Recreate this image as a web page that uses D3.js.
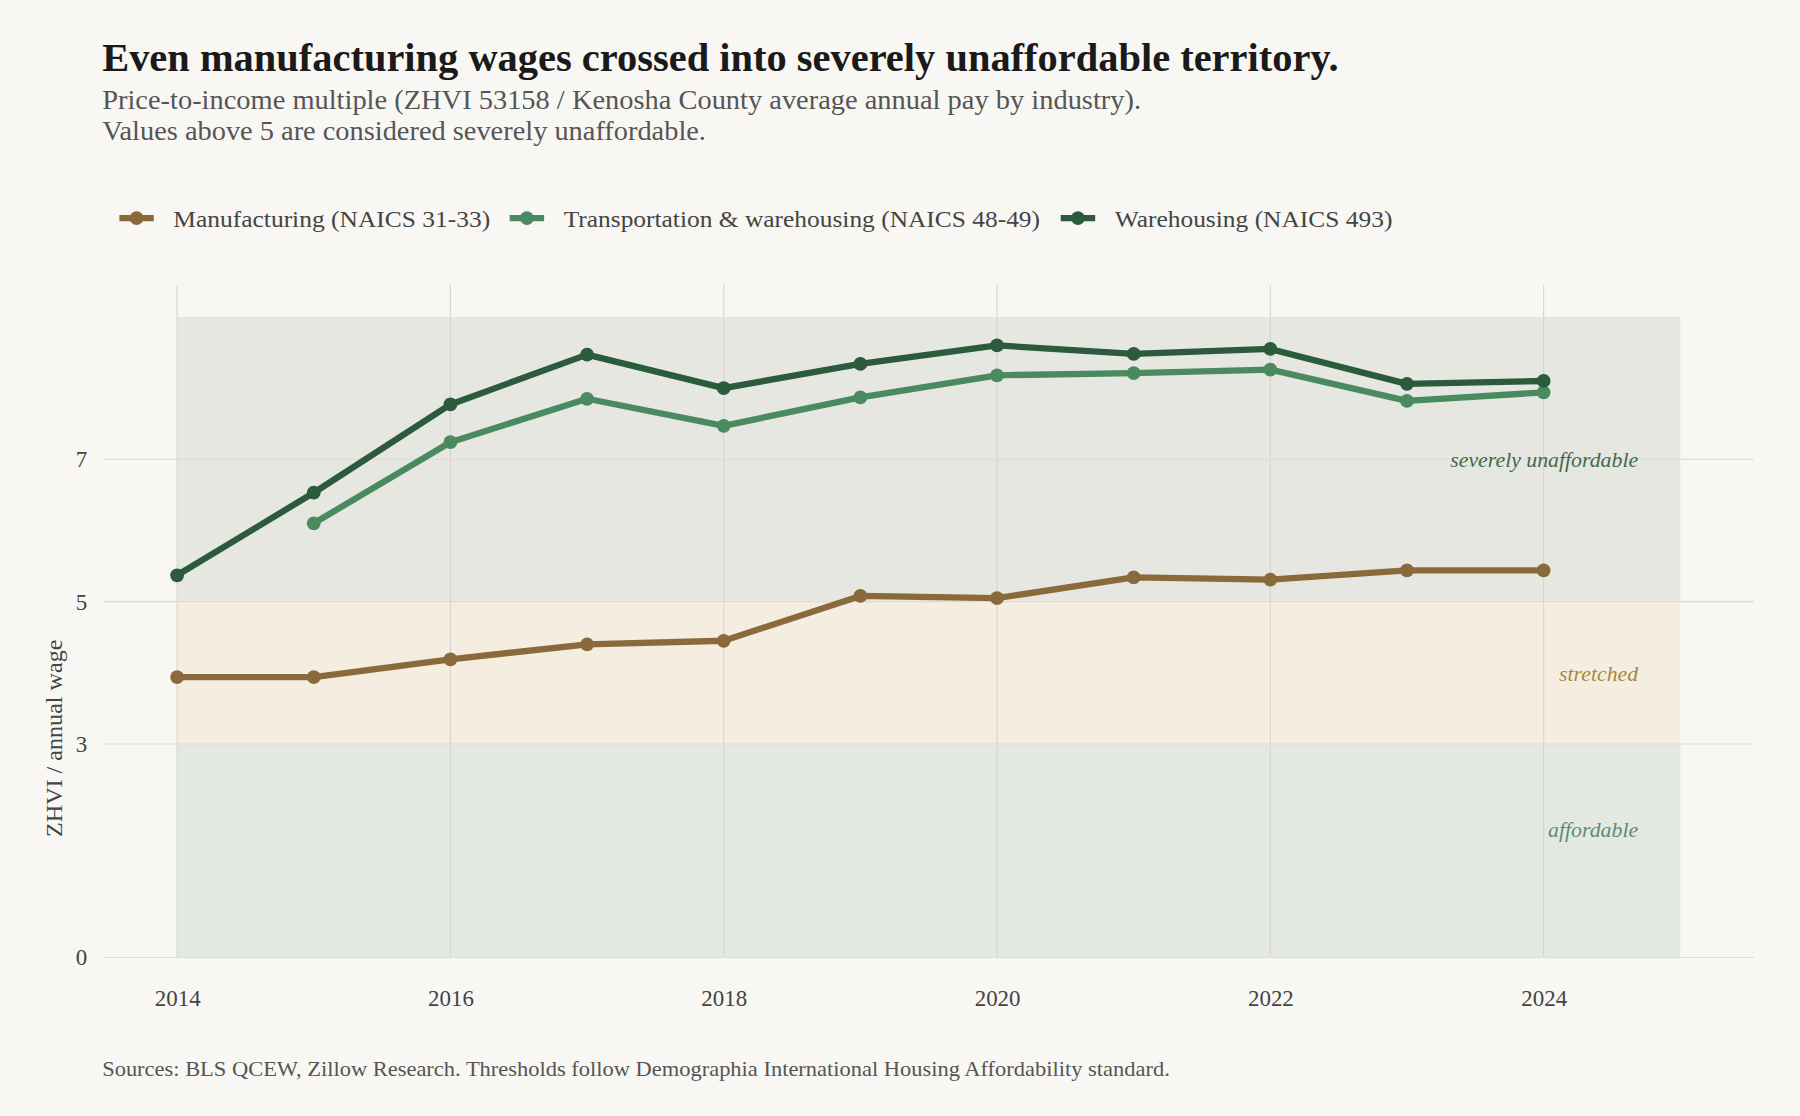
<!DOCTYPE html>
<html><head><meta charset="utf-8">
<script src="https://cdn.jsdelivr.net/npm/d3@7"></script>
<style>body{margin:0;background:#f8f7f3}svg{display:block}</style>
</head><body>
<svg id="chart" width="1800" height="1116" viewBox="0 0 1568 972"></svg>
<script>
// data
const years = [2014, 2015, 2016, 2017, 2018, 2019, 2020, 2021, 2022, 2023, 2024];
const manufacturing = [3.94, 3.94, 4.19, 4.40, 4.45, 5.08, 5.05, 5.34, 5.31, 5.44, 5.44];
const transport = [null, 6.10, 7.24, 7.85, 7.47, 7.87, 8.18, 8.21, 8.26, 7.82, 7.94];
const warehousing = [5.37, 6.53, 7.77, 8.47, 8.00, 8.34, 8.60, 8.48, 8.55, 8.06, 8.10];
const xTicks = [2014, 2016, 2018, 2020, 2022, 2024];
const yTicks = [0, 3, 5, 7];
const bands = [
  {from: 0, to: 3, label: "affordable", fill: "#e3e8e2", color: "#5e8a78", ly: 1.8},
  {from: 3, to: 5, label: "stretched", fill: "#f5eee0", color: "#a8873f", ly: 3.99},
  {from: 5, to: 9, label: "severely unaffordable", fill: "#e6e7e1", color: "#3f6a50", ly: 7}
];
const series = [
  {name: "Manufacturing (NAICS 31-33)", values: manufacturing, color: "#8a6a3a"},
  {name: "Transportation & warehousing (NAICS 48-49)", values: transport, color: "#4a8a5f"},
  {name: "Warehousing (NAICS 493)", values: warehousing, color: "#2b5a3c"}
];

const svg = d3.select("#chart");
const font = "'Liberation Serif', 'DejaVu Serif', serif";
svg.append("rect").attr("width", 1568).attr("height", 972).attr("fill", "#f8f7f3");

const x = d3.scaleLinear().domain([2013.46, 2025.54]).range([90, 1528]);
const y = d3.scaleLinear().domain([0, 9]).range([834, 276]);

// bands
svg.selectAll(".band").data(bands).join("rect")
  .attr("x", x(2014)).attr("width", x(2025) - x(2014))
  .attr("y", d => y(d.to)).attr("height", d => y(d.from) - y(d.to))
  .attr("fill", d => d.fill);

// grid
svg.selectAll(".vg").data(xTicks).join("line")
  .attr("x1", d => x(d)).attr("x2", d => x(d)).attr("y1", y(9.45)).attr("y2", y(0))
  .attr("stroke", "#d6d6d0").attr("stroke-width", 1);
svg.selectAll(".hg").data(yTicks).join("line")
  .attr("x1", 90).attr("x2", 1528).attr("y1", d => y(d)).attr("y2", d => y(d))
  .attr("stroke", "#dcdcd4").attr("stroke-width", 1);

// band labels
svg.selectAll(".bl").data(bands).join("text")
  .attr("x", 1427).attr("y", d => y(d.ly)).attr("dy", "0.35em")
  .attr("text-anchor", "end").attr("font-family", font).attr("font-style", "italic")
  .attr("font-size", 19).attr("fill", d => d.color).text(d => d.label);

// axes
const xAxis = svg.append("g").attr("transform", "translate(0,852)")
  .call(d3.axisBottom(x).tickValues(xTicks).tickFormat(d3.format("d")).tickSize(0));
const yAxis = svg.append("g").attr("transform", "translate(80,0)")
  .call(d3.axisLeft(y).tickValues(yTicks).tickSize(0));
[xAxis, yAxis].forEach(a => {
  a.select(".domain").remove();
  a.selectAll("text").attr("font-family", font).attr("font-size", 20).attr("fill", "#444");
});
xAxis.selectAll("text").attr("dy", "1.05em");
yAxis.selectAll("text").attr("x", -4);
svg.append("text").attr("transform", `translate(54,${y(3.08)}) rotate(-90)`)
  .attr("text-anchor", "middle").attr("font-family", font).attr("font-size", 21)
  .attr("fill", "#444").text("ZHVI / annual wage");

// lines
const line = d3.line().defined(d => d.v != null).x(d => x(d.year)).y(d => y(d.v));
series.forEach(s => {
  const pts = years.map((yr, i) => ({year: yr, v: s.values[i]}));
  svg.append("path").datum(pts).attr("d", line).attr("fill", "none")
    .attr("stroke", s.color).attr("stroke-width", 5.5).attr("stroke-linejoin", "round");
  svg.selectAll(null).data(pts.filter(d => d.v != null)).join("circle")
    .attr("cx", d => x(d.year)).attr("cy", d => y(d.v)).attr("r", 6).attr("fill", s.color);
});

// legend
const legendX = [104, 444, 924];
const legendW = [276, 415, 242];
series.forEach((s, i) => {
  const g = svg.append("g").attr("transform", `translate(${legendX[i]},190)`);
  g.append("line").attr("x1", 0).attr("x2", 30).attr("stroke", s.color).attr("stroke-width", 5.5);
  g.append("circle").attr("cx", 15).attr("r", 6).attr("fill", s.color);
  g.append("text").attr("x", 47).attr("dy", "0.35em").attr("font-family", font)
    .attr("font-size", 21).attr("fill", "#444")
    .attr("textLength", legendW[i]).attr("lengthAdjust", "spacingAndGlyphs").text(s.name);
});

// titles
function txt(str, yy, size, len, col, bold) {
  svg.append("text").attr("x", 89).attr("y", yy).attr("font-family", font)
    .attr("font-weight", bold ? "bold" : "normal").attr("font-size", size).attr("fill", col)
    .attr("textLength", len).attr("lengthAdjust", "spacingAndGlyphs").text(str);
}
txt("Even manufacturing wages crossed into severely unaffordable territory.", 62, 34, 1077, "#1a1a1a", true);
txt("Price-to-income multiple (ZHVI 53158 / Kenosha County average annual pay by industry).", 95, 23, 905, "#555");
txt("Values above 5 are considered severely unaffordable.", 122, 23, 526, "#555");
txt("Sources: BLS QCEW, Zillow Research. Thresholds follow Demographia International Housing Affordability standard.", 937, 18, 930, "#555");
</script>
</body></html>
